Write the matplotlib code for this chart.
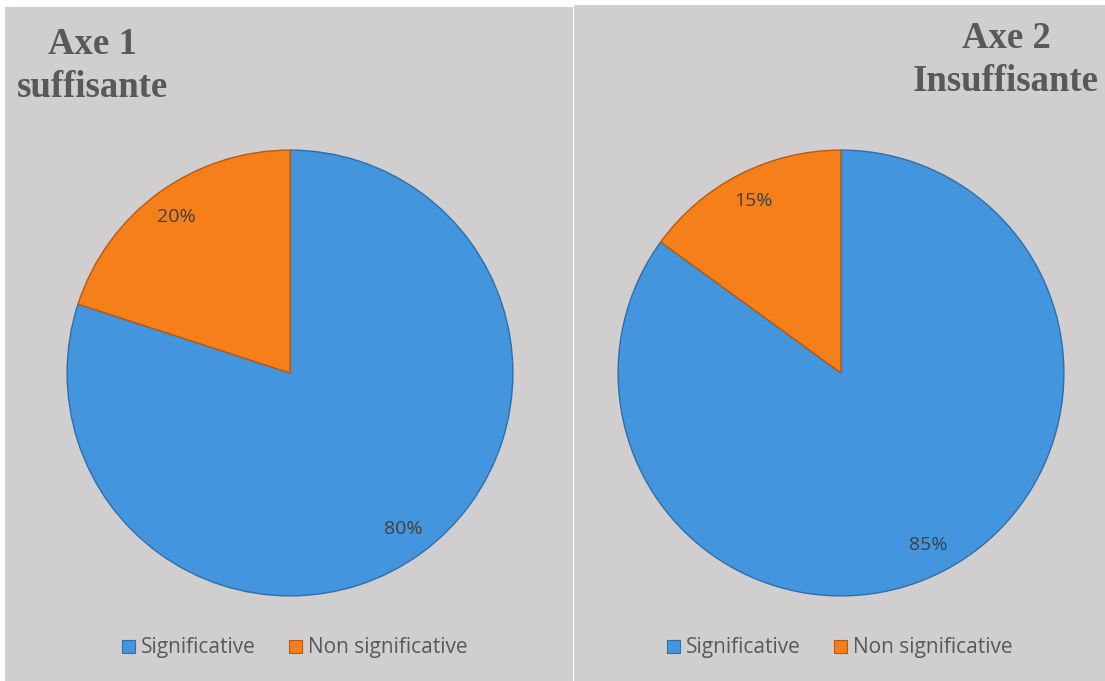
import matplotlib
matplotlib.use("Agg")
import matplotlib.pyplot as plt
from matplotlib.patches import Rectangle

categories = ["Significative", "Non significative"]
axe1_values = [80, 20]
axe2_values = [85, 15]
titles = ["Axe 1\nsuffisante", "Axe 2\nInsuffisante"]

W, H = 1105, 681
fig = plt.figure(figsize=(W / 100, H / 100), dpi=100, facecolor="white")

BG = "#d0cece"
# panel backgrounds
fig.patches.append(Rectangle((5 / W, 0), (573 - 5) / W, (H - 7) / H,
                             transform=fig.transFigure, facecolor=BG, edgecolor="none", zorder=-5))
fig.patches.append(Rectangle((574 / W, 0), (W - 574) / W, (H - 5) / H,
                             transform=fig.transFigure, facecolor=BG, edgecolor="none", zorder=-5))

colors = ["#4396dd", "#f5801a"]
edges = ["#2f6ea8", "#b85a10"]
TXT = "#404040"
R = 224

def draw_pie(cx, cy, values, pctdist):
    ax = fig.add_axes([(cx - R) / W, (H - cy - R) / H, 2 * R / W, 2 * R / H])
    ax.set_zorder(1)
    wedges, _, autotexts = ax.pie(values, colors=colors, startangle=90, counterclock=False,
                                  autopct="%d%%", pctdistance=pctdist,
                                  wedgeprops=dict(linewidth=1.0),
                                  textprops=dict(color=TXT, fontsize=14, family="Open Sans"))
    for w, e in zip(wedges, edges):
        w.set_edgecolor(e)
    ax.set_xlim(-1.005, 1.005)
    ax.set_ylim(-1.005, 1.005)
    ax.set_aspect("equal")
    ax.axis("off")
    return wedges

w1 = draw_pie(290, 373, axe1_values, 0.865)
w2 = draw_pie(841, 373, axe2_values, 0.865)

TITLE = "#595959"
fig.text(92 / W, 1 - 66 / H, titles[0], ha="center", va="center", fontsize=26.5,
         family="Liberation Serif", weight="bold", color=TITLE, linespacing=1.3)
fig.text(1006 / W, 1 - 60 / H, titles[1], ha="center", va="center", fontsize=26.5,
         family="Liberation Serif", weight="bold", color=TITLE, linespacing=1.3)

for wedges, x in ((w1, 295), (w2, 840)):
    handles = [Rectangle((0, 0), 1, 1, facecolor=c, edgecolor=e, linewidth=0.8)
               for c, e in zip(colors, edges)]
    fig.legend(handles, categories, loc="center", bbox_to_anchor=(x / W, 1 - 648 / H),
               ncol=2, frameon=False, handlelength=0.6, handleheight=0.6,
               handletextpad=0.3, columnspacing=1.6,
               prop=dict(family="Open Sans", size=15), labelcolor="#595959")

fig.savefig("out.png", dpi=100, facecolor="white")
